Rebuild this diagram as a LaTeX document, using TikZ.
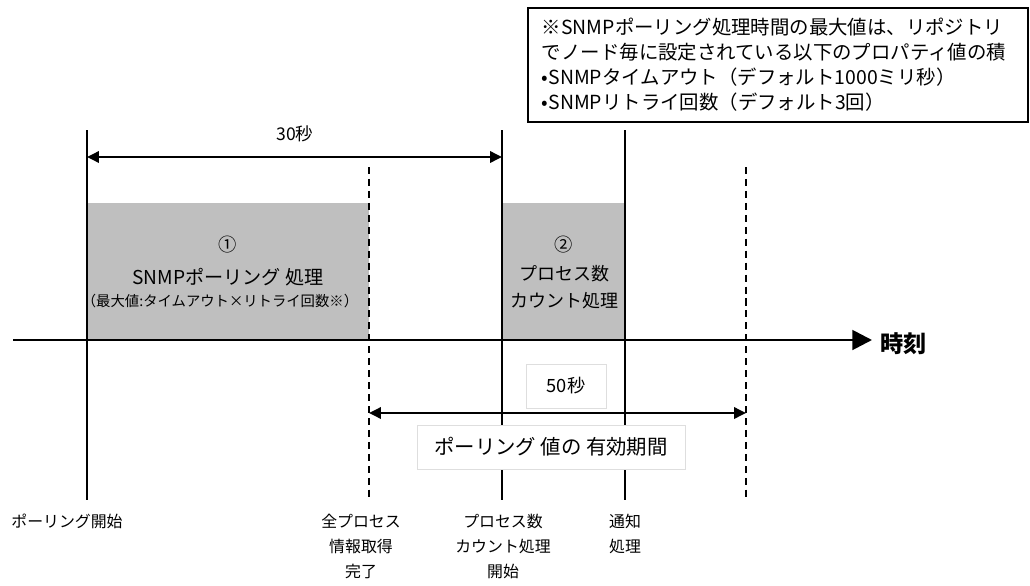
\documentclass[tikz,border=0pt]{standalone}
\usepackage{fontspec}
\setmainfont{Noto Sans CJK JP}
\usetikzlibrary{arrows.meta,calc,positioning}

\begin{document}
\begin{tikzpicture}[x=0.025cm,y=-0.025cm,
		every node/.style={inner sep=0pt},
		solidmark/.style={line width=1.2pt},
		dashmark/.style={line width=1.2pt,dash pattern=on 5pt off 3.5pt},
		span/.style={line width=1.8pt,{Triangle[length=8.5pt,width=8pt]}-{Triangle[length=8.5pt,width=8pt]}},
		timeaxis/.style={line width=2pt,-{Triangle[length=14pt,width=14pt]}},
		tag/.style={draw=black!13,fill=white},
		lbl/.style={font=\fontsize{11.3}{17.7}\selectfont,align=center,anchor=north}]
	\useasboundingbox (0,0) rectangle (1030,585);
	% processing blocks
	\fill[black!25] (87,203) rectangle (369,340);
	\fill[black!25] (502,203) rectangle (625,340);
	\node[font=\fontsize{13}{16}\selectfont] (n1) at (228,245) {①};
	\node[font=\fontsize{13.6}{16}\selectfont] (snmp) at (228,277) {SNMPポーリング 処理};
	\node[font=\fontsize{10.2}{12}\selectfont] (maxv) at (220,301) {（最大値:タイムアウト×リトライ回数※）};
	\node[font=\fontsize{13}{16}\selectfont] (n2) at (564,245) {②};
	\node[font=\fontsize{12.8}{16}\selectfont] (proc) at (564,274) {プロセス数};
	\node[font=\fontsize{12.8}{16}\selectfont] (cnt) at (564,301) {カウント処理};
	% time marks
	\coordinate (p0) at (87,130);  \coordinate (p0b) at (87,500);
	\coordinate (d1) at (369,167); \coordinate (d1b) at (369,500);
	\coordinate (p1) at (502,130); \coordinate (p1b) at (502,500);
	\coordinate (p2) at (625,130); \coordinate (p2b) at (625,500);
	\coordinate (d2) at (746,167); \coordinate (d2b) at (746,500);
	\draw[solidmark] (p0) -- (p0b);
	\draw[solidmark] (p1) -- (p1b);
	\draw[solidmark] (p2) -- (p2b);
	\draw[dashmark] (d1) -- (d1b);
	\draw[dashmark] (d2) -- (d2b);
	% time axis
	\coordinate (ax0) at (13,340);
	\coordinate (ax1) at (872,340);
	\draw[timeaxis] (ax0) -- (ax1);
	\node[font=\fontsize{16.5}{18}\selectfont\bfseries,anchor=west] (jikoku) at (880,344) {時刻};
	% 30 s
	\coordinate (a30l) at (87,157);
	\coordinate (a30r) at (502,157);
	\draw[span] (a30l) -- (a30r);
	\node[font=\fontsize{12.5}{15}\selectfont] (s30) at (295,134) {30秒};
	% 50 s
	\coordinate (a50l) at (369,413);
	\coordinate (a50r) at (746,413);
	\node[tag,minimum width=2cm,minimum height=1.1cm,font=\fontsize{13}{15}\selectfont] (s50) at (566,386) {50秒};
	\draw[span] (a50l) -- (a50r);
	\node[tag,minimum width=6.7cm,minimum height=1.1cm,font=\fontsize{14.5}{16}\selectfont] (valid) at (551,447) {ポーリング 値の 有効期間};
	% note
	\node[draw,line width=1.4pt,anchor=north west,inner xsep=0.35cm,inner ysep=0pt,
		text width=11.8cm,minimum height=2.85cm,align=left,
		font=\fontsize{13.8}{17.7}\selectfont] (note) at (527,7)
		{※SNMPポーリング処理時間の最大値は、リポジトリ\\
		でノード毎に設定されている以下のプロパティ値の積\\
		•SNMPタイムアウト（デフォルト1000ミリ秒）\\
		•SNMPリトライ回数（デフォルト3回）};
	% event labels
	\node[lbl] (ev0) at (67,514) {ポーリング開始};
	\node[lbl] (ev1) at (361,514) {全プロセス\\情報取得\\完了};
	\node[lbl] (ev2) at (503,514) {プロセス数\\カウント処理\\開始};
	\node[lbl] (ev3) at (625,514) {通知\\処理};
\end{tikzpicture}
\end{document}
